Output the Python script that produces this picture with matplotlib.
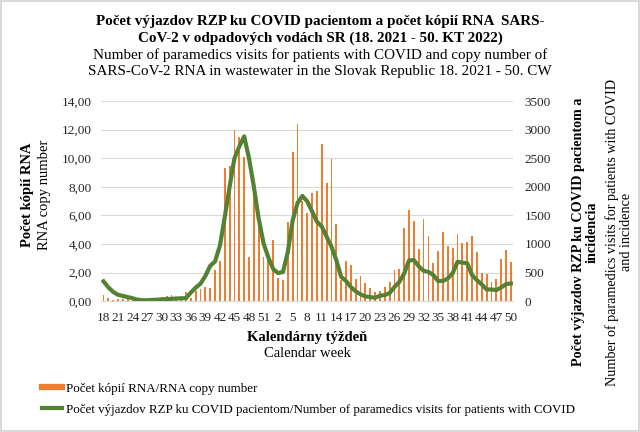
import matplotlib
matplotlib.use("Agg")
import matplotlib.pyplot as plt
from matplotlib.ticker import FuncFormatter
from matplotlib.lines import Line2D
import numpy as np

# calendar weeks 18/2021 .. 52/2021, 1/2022 .. 50/2022
weeks = list(range(18, 53)) + list(range(1, 51))

rna_copies = [
    0.42, 0.24, 0.07, 0.12, 0.12, 0.19, 0.10, 0.03, 0.02, 0.02, 0.02, 0.10,  # 18-29
    0.28, 0.35, 0.42, 0.10, 0.20, 0.64, 0.24, 0.70, 0.83, 1.00, 0.95, 2.16,  # 30-41
    2.80, 9.33, 9.47, 11.97, 11.46, 10.12, 3.06, 7.92, 5.30, 3.12, 3.12,      # 42-52
    4.27, 1.60, 1.47, 5.52, 10.43, 12.43, 7.00, 6.14, 7.60, 7.72, 11.02,      # 1-11
    8.28, 9.98, 5.40, 1.50, 2.82, 2.54, 1.54, 1.77, 1.24, 0.89, 0.65, 0.72,   # 12-23
    0.96, 1.35, 2.17, 2.24, 5.09, 6.37, 5.60, 3.64, 5.74, 4.55, 2.64, 3.50,   # 24-35
    4.85, 3.85, 3.69, 4.69, 4.04, 4.15, 4.57, 3.41, 2.00, 1.87, 1.31, 1.54,   # 36-47
    2.94, 3.57, 2.75,                                                         # 48-50
]

paramedic_visits = [
    345, 240, 160, 110, 90, 70, 50, 25, 15, 15, 20, 25,                      # 18-29
    30, 35, 40, 45, 50, 50, 150, 235, 306, 441, 618, 694,                    # 30-41
    971, 1470, 2000, 2500, 2706, 2882, 2500, 2000, 1441, 1010, 760,          # 42-52
    560, 490, 510, 860, 1410, 1715, 1840, 1747, 1571, 1390, 1306,            # 1-11
    1129, 953, 718, 424, 353, 247, 171, 118, 82, 71, 59, 94,                 # 12-23
    106, 141, 247, 335, 482, 712, 717, 610, 530, 512, 455, 352,              # 24-35
    352, 396, 489, 688, 674, 662, 455, 367, 292, 204, 204, 192,              # 36-47
    239, 297, 309,                                                           # 48-50
]

title_lines = [
    ("Počet výjazdov RZP ku COVID pacientom a počet kópií RNA  SARS-", "bold"),
    ("CoV-2 v odpadových vodách SR (18. 2021 - 50. KT 2022)", "bold"),
    ("Number of paramedics visits for patients with COVID and copy number of", "normal"),
    ("SARS-CoV-2 RNA in wastewater in the Slovak Republic 18. 2021 - 50. CW", "normal"),
]

plt.rcParams["font.family"] = ["Liberation Serif", "DejaVu Serif"]

orange = "#ED7D31"
green = "#548235"

fig = plt.figure(figsize=(6.4, 4.32), dpi=100)
fig.patch.set_edgecolor("#D9D9D9")
fig.patch.set_linewidth(1.5)

ax = fig.add_axes([0.158, 0.303, 0.644, 0.463])
ax2 = ax.twinx()

x = np.arange(len(weeks))
ax.bar(x, rna_copies, width=0.38, color=orange, linewidth=0, antialiased=False, zorder=2,
       label="Počet kópií RNA/RNA copy number")
ax2.plot(x, paramedic_visits, color=green, linewidth=3, zorder=3,
         label="Počet výjazdov RZP ku COVID pacientom/Number of paramedics visits for patients with COVID")

ax.set_xlim(-0.5, len(weeks) - 0.5)
ax.set_ylim(0, 14)
ax.set_yticks(np.arange(0, 15, 2))
ax.yaxis.set_major_formatter(FuncFormatter(lambda v, p: f"{v:.2f}".replace(".", ",")))
ax2.set_ylim(0, 3500)
ax2.set_yticks(np.arange(0, 3501, 500))

ax.set_xticks(x[::3])
ax.set_xticklabels([str(w) for w in weeks[::3]])
ax.grid(axis="y", color="#D9D9D9", linewidth=0.8, zorder=0)
ax.set_axisbelow(True)

for a in (ax, ax2):
    for s in a.spines.values():
        s.set_visible(False)
    a.tick_params(length=0, labelsize=9.5, colors="#262626")
ax.spines["bottom"].set_visible(True)
ax.spines["bottom"].set_color("#D9D9D9")
ax.tick_params(axis="y", pad=6.5)
ax.tick_params(axis="x", pad=8)
ax2.tick_params(axis="y", pad=8)

# title, one text per line
for (txt, weight), yy in zip(title_lines, [0.951, 0.912, 0.872, 0.834]):
    fig.text(0.5, yy, txt, ha="center", va="center", fontsize=10.9, fontweight=weight)

# axis labels
fig.text(0.48, 0.219, "Kalendárny týždeň", ha="center", va="center", fontsize=10.5, fontweight="bold")
fig.text(0.48, 0.182, "Calendar week", ha="center", va="center", fontsize=10.5)
fig.text(0.043, 0.55, "Počet kópií RNA", rotation=90, ha="center", va="center", fontsize=10.5, fontweight="bold")
fig.text(0.069, 0.55, "RNA copy number", rotation=90, ha="center", va="center", fontsize=10.5)
fig.text(0.915, 0.463, "Počet výjazdov RZP ku COVID pacientom a\nincidencia", rotation=90,
         ha="center", va="center", fontsize=10.2, fontweight="bold", linespacing=1.1)
fig.text(0.968, 0.463, "Number of paramedics visits for patients with COVID\nand incidence", rotation=90,
         ha="center", va="center", fontsize=10.2, linespacing=1.1)

# legend
labels = [ax.get_legend_handles_labels()[1][0], ax2.get_legend_handles_labels()[1][0]]
handles = [Line2D([], [], color=orange, linewidth=4.5), Line2D([], [], color=green, linewidth=3)]
fig.legend(handles, labels, loc="upper left", bbox_to_anchor=(0.057, 0.126), frameon=False,
           fontsize=9.4, handlelength=1.55, handletextpad=0.3, labelspacing=0.65, borderaxespad=0)

fig.savefig("out.png", dpi=100)
